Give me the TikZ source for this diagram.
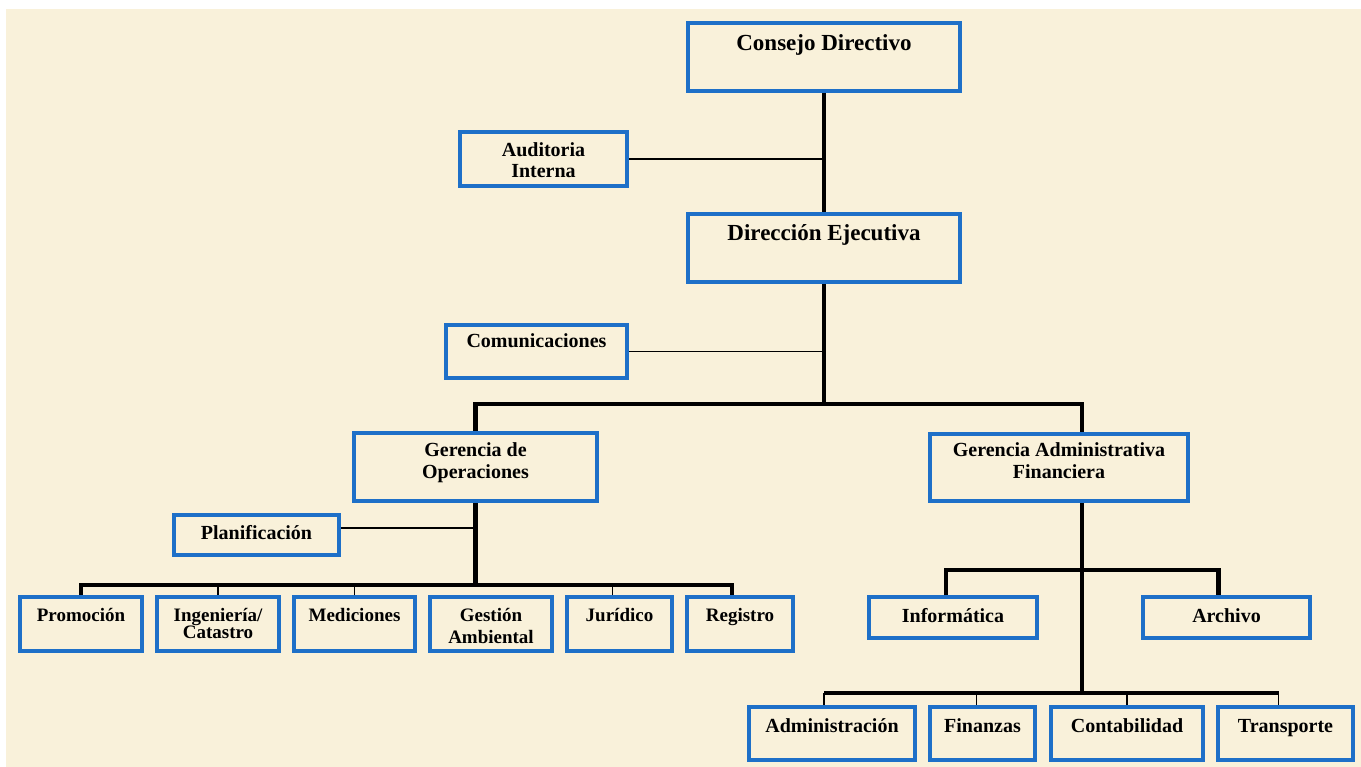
\documentclass[tikz,border=0pt]{standalone}
\usepackage{fontspec}
\setmainfont{Liberation Serif}
\usetikzlibrary{positioning}
\definecolor{unitblue}{RGB}{30,112,200}
\definecolor{paper}{RGB}{249,241,218}

\begin{document}
\begin{tikzpicture}[x=1pt,y=-1pt,
  unit/.style={draw=unitblue,line width=4pt,inner sep=0pt,align=center,anchor=north west,
    font=\bfseries\fontsize{20}{21}\selectfont},
  big/.style={font=\bfseries\fontsize{23}{26}\selectfont},
  small/.style={font=\bfseries\fontsize{19}{20}\selectfont},
  dims/.style n args={3}{minimum width=#1,text height=#2,text depth=#3},
  bus/.style={line width=4.5pt},
  tie/.style={line width=1.3pt}]
\useasboundingbox (0,0) rectangle (1361,767);
\fill[white] (0,0) rectangle (1361,767);
\fill[paper] (6,9) rectangle (1361,767);

% top
\node[unit,big,dims={272}{28}{40}] (cons) at (686,21) {Consejo Directivo};
\node[unit,dims={167}{46}{8}] (audi) at (458,130) {Auditoria\\Interna};
\node[unit,big,dims={272}{27}{41}] (dire) at (686,212) {Dirección Ejecutiva};
\node[unit,dims={181}{23}{30}] (comu) at (444,323) {Comunicaciones};
\coordinate (hub) at (824,404);
\coordinate (ga) at (1082,404);

% gerencias
\node[unit,dims={243}{45}{23}] (gope) at (352,431) {Gerencia de\\Operaciones};
\node[unit,dims={258}{44}{23}] (gadm) at (928,432) {Gerencia Administrativa\\Financiera};
\node[unit,dims={165}{24}{16}] (plan) at (172,513) {Planificación};

% operaciones
\coordinate (opbus) at (475.5,585);
\node[unit,small,dims={122}{24}{30}] (prom) at (18,595) {Promoción};
\node[unit,small,dims={122}{41}{13},right=11pt of prom] (inge) {Ingeniería/\\[-3pt]Catastro};
\node[unit,small,dims={121}{24}{30},right=11pt of inge] (medi) {Mediciones};
\node[unit,small,dims={122}{46}{8},right=11pt of medi] (gest) {Gestión\\[2pt]Ambiental};
\node[unit,small,dims={105}{24}{30},right=11pt of gest] (juri) {Jurídico};
\node[unit,small,dims={106}{24}{30},right=11pt of juri] (regi) {Registro};

% administrativa financiera
\coordinate (fa) at (1082,570);
\coordinate (fb) at (1082,693);
\node[unit,dims={168}{25}{16}] (info) at (867,595) {Informática};
\node[unit,dims={167}{25}{16}] (arch) at (1141,595) {Archivo};
\node[unit,dims={166}{25}{28}] (admi) at (747,705) {Administración};
\node[unit,dims={105}{25}{28},right=11pt of admi] (fina) {Finanzas};
\node[unit,dims={152}{25}{28},right=12pt of fina] (cont) {Contabilidad};
\node[unit,dims={135}{25}{28},right=11pt of cont] (tran) {Transporte};

\draw[bus] (cons.south) -- (dire.north);
\draw[tie] (audi.east) -- (audi.east -| cons.south);
\draw[tie] (comu.east) -- (comu.east -| dire.south);
\draw[bus] (dire.south) -- (hub);
\draw[bus] (gope.north) |- (ga) -- (ga |- gadm.north);
\draw[tie] ([yshift=7pt]plan.east) -- ([yshift=7pt]plan.east -| gope.south);
\draw[bus] (gope.south) -- (opbus);
\draw[bus] (prom.north) |- (opbus) -| ([xshift=-8pt]regi.north);
\draw[tie] (inge.north) -- (inge.north |- opbus);
\draw[tie] (medi.north) -- (medi.north |- opbus);
\draw[tie] ([xshift=-7pt]juri.north) -- ([xshift=-7pt]juri.north |- opbus);
\draw[bus] (gadm.south -| fb) -- (fb);
\draw[bus] ([xshift=-7pt]info.north) |- (fa) -| ([xshift=-8pt]arch.north);
\draw[bus] ([xshift=-8pt]admi.north |- fb) -- ([xshift=-7pt]tran.north |- fb);
\draw[tie] ([xshift=-8pt]admi.north) -- ([xshift=-8pt]admi.north |- fb);
\draw[tie] ([xshift=-6pt]fina.north) -- ([xshift=-6pt]fina.north |- fb);
\draw[tie] (cont.north) -- (cont.north |- fb);
\draw[tie] ([xshift=-7pt]tran.north) -- ([xshift=-7pt]tran.north |- fb);
\end{tikzpicture}
\end{document}
